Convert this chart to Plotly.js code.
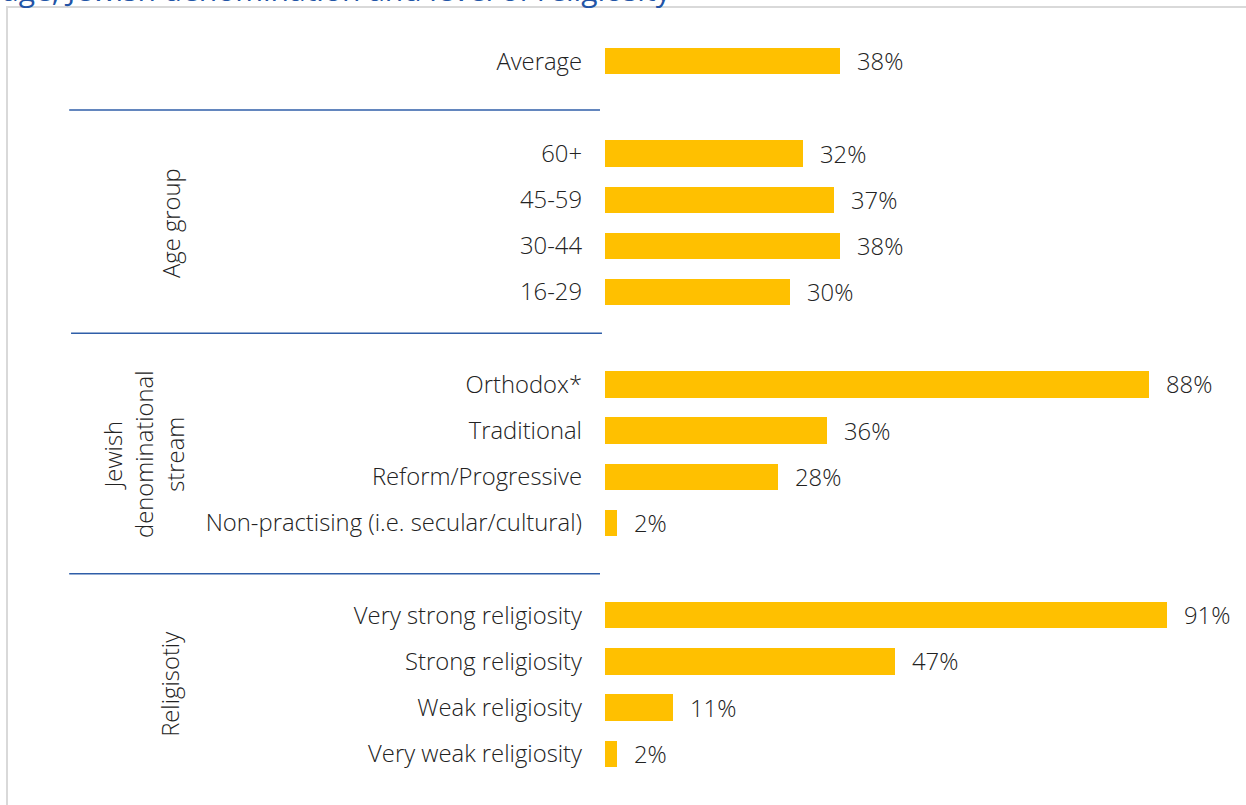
<!DOCTYPE html>
<html>
<head>
<meta charset="utf-8">
<script src="https://cdn.plot.ly/plotly-3.0.1.min.js"></script>
<style>html,body{margin:0;padding:0;background:#fff;}#chart{width:1246px;height:805px;}</style>
</head>
<body>
<div id="chart"></div>
<script>
// ---- data ----
const groupTitles = ['', 'Age group', 'Jewish<br>denominational<br>stream', 'Religisotiy'];
const averageCategories = ['Average'];
const averageValues = [38];
const ageCategories = ['60+', '45-59', '30-44', '16-29'];
const ageValues = [32, 37, 38, 30];
const streamCategories = ['Orthodox*', 'Traditional', 'Reform/Progressive', 'Non-practising (i.e. secular/cultural)'];
const streamValues = [88, 36, 28, 2];
const religiosityCategories = ['Very strong religiosity', 'Strong religiosity', 'Weak religiosity', 'Very weak religiosity'];
const religiosityValues = [91, 47, 11, 2];
const chartTitle = 'age, Jewish denomination and level of religiosity';

// ---- build ----
const groups = [
  {cats: averageCategories, vals: averageValues},
  {cats: ageCategories, vals: ageValues},
  {cats: streamCategories, vals: streamValues},
  {cats: religiosityCategories, vals: religiosityValues}
];
const ys = [], xs = [], labels = [], groupCenters = [];
let p = 0;
groups.forEach((g, gi) => {
  const start = p;
  g.cats.forEach((c, i) => { ys.push(p); xs.push(g.vals[i]); labels.push(c); p++; });
  groupCenters.push((start + p - 1) / 2);
  p++; // gap row
});

const FONT = 'Open Sans, Noto Sans, sans-serif';
const TXT = '#222222';
const FS = 23.8;

const annotations = [];
xs.forEach((v, i) => annotations.push({
  x: v, y: ys[i], xref: 'x', yref: 'y', text: v + '%', showarrow: false,
  xanchor: 'left', yanchor: 'middle', xshift: 15,
  font: {family: FONT, size: FS, color: TXT, weight: 300}
}));
const groupX = [null, -0.702, -0.747, -0.705];
groupTitles.forEach((t, gi) => {
  if (!t) return;
  annotations.push({
    x: groupX[gi], y: groupCenters[gi], xref: 'paper', yref: 'y', text: t, showarrow: false,
    textangle: -90, xanchor: 'center', yanchor: 'middle', align: 'center',
    font: {family: FONT, size: FS, color: TXT, weight: 300}
  });
});
annotations.push({
  x: -0.979, y: 1.0038, xref: 'paper', yref: 'paper', text: chartTitle, showarrow: false,
  xanchor: 'left', yanchor: 'bottom', font: {family: FONT, size: 30, color: '#2254a6'}
});

const sepLine = (y, x0, x1) => ({type: 'line', xref: 'paper', yref: 'y', x0: x0, x1: x1, y0: y, y1: y,
  line: {color: '#2f5ea8', width: 1.5}});

const layout = {
  width: 1246, height: 805,
  margin: {l: 605, r: 23, t: 15, b: 5},
  paper_bgcolor: '#ffffff', plot_bgcolor: '#ffffff',
  showlegend: false,
  xaxis: {range: [0, 100], visible: false, fixedrange: true},
  yaxis: {range: [16, -1], tickvals: ys, ticktext: labels, showgrid: false, zeroline: false,
    showline: false, ticks: '', ticklabelstandoff: 22,
    tickfont: {family: FONT, size: FS, color: TXT, weight: 300}},
  bargap: 0,
  annotations: annotations,
  shapes: [
    {type: 'rect', xref: 'paper', yref: 'paper', x0: -0.9676, x1: 1.2, y0: -0.2, y1: 1.0102,
      line: {color: '#d9d9d9', width: 2}, fillcolor: 'rgba(0,0,0,0)'},
    sepLine(1.06, -0.867, -0.0081),
    sepLine(5.89, -0.864, -0.0049),
    sepLine(11.1, -0.867, -0.0081)
  ]
};

const trace = {
  type: 'bar', orientation: 'h', x: xs, y: ys, width: 0.57,
  marker: {color: '#FFC000'}, hoverinfo: 'skip'
};

Plotly.newPlot('chart', [trace], layout, {displayModeBar: false, staticPlot: true});
</script>
</body>
</html>
